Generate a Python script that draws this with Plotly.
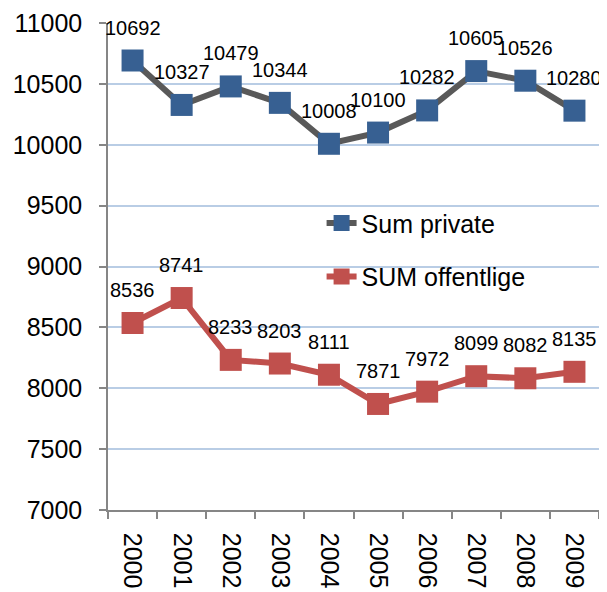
import plotly.graph_objects as go

years = ["2000", "2001", "2002", "2003", "2004", "2005", "2006", "2007", "2008", "2009"]
sum_private = [10692, 10327, 10479, 10344, 10008, 10100, 10282, 10605, 10526, 10280]
sum_offentlige = [8536, 8741, 8233, 8203, 8111, 7871, 7972, 8099, 8082, 8135]
y_ticks = [7000, 7500, 8000, 8500, 9000, 9500, 10000, 10500, 11000]
y_tick_labels = [str(v) for v in y_ticks]

FONT = "Liberation Sans, Arial, sans-serif"

fig = go.Figure()
fig.add_trace(go.Scatter(
    x=years, y=sum_private, name="Sum private", mode="lines+markers",
    line=dict(color="#595959", width=6),
    marker=dict(symbol="square", size=22, color="#376092", line=dict(width=0)),
    legendgroup="a",
))
fig.add_trace(go.Scatter(
    x=years, y=sum_offentlige, name="SUM offentlige", mode="lines+markers",
    line=dict(color="#C0504D", width=6),
    marker=dict(symbol="square", size=22, color="#C0504D", line=dict(width=0)),
    legendgroup="b",
))

for series in (sum_private, sum_offentlige):
    for i, yv in enumerate(series):
        fig.add_annotation(x=i, y=yv, xref="x", yref="y", text=str(yv),
                           showarrow=False, yshift=33,
                           font=dict(family=FONT, size=20, color="black"))

fig.update_layout(
    width=599, height=584,
    margin=dict(l=100, r=8, t=15, b=82),
    paper_bgcolor="white", plot_bgcolor="white",
    font=dict(family=FONT, color="black"),
    showlegend=True,
    legend=dict(x=0.435, y=0.636, xanchor="left", yanchor="top",
                font=dict(family=FONT, size=25, color="black"),
                bgcolor="rgba(0,0,0,0)", tracegroupgap=18),
    xaxis=dict(
        type="category", range=[-0.5, 9.5], tickangle=90, automargin=False,
        tickfont=dict(family=FONT, size=25, color="black"),
        showline=True, linecolor="#868686", linewidth=1.5,
        ticks="outside", ticklen=7, tickcolor="#868686", tickwidth=1.5,
        tickson="boundaries", showgrid=False, zeroline=False,
        ticklabelstandoff=16,
    ),
    yaxis=dict(
        range=[7000, 11000], tickvals=y_ticks, ticktext=y_tick_labels,
        automargin=False,
        tickfont=dict(family=FONT, size=25, color="black"),
        showline=True, linecolor="#868686", linewidth=1.5,
        ticks="outside", ticklen=7, tickcolor="#868686", tickwidth=1.5,
        showgrid=True, gridcolor="#B9CDE5", gridwidth=1.5, zeroline=False,
        ticklabelstandoff=12,
    ),
)

fig.write_html("out.html")
